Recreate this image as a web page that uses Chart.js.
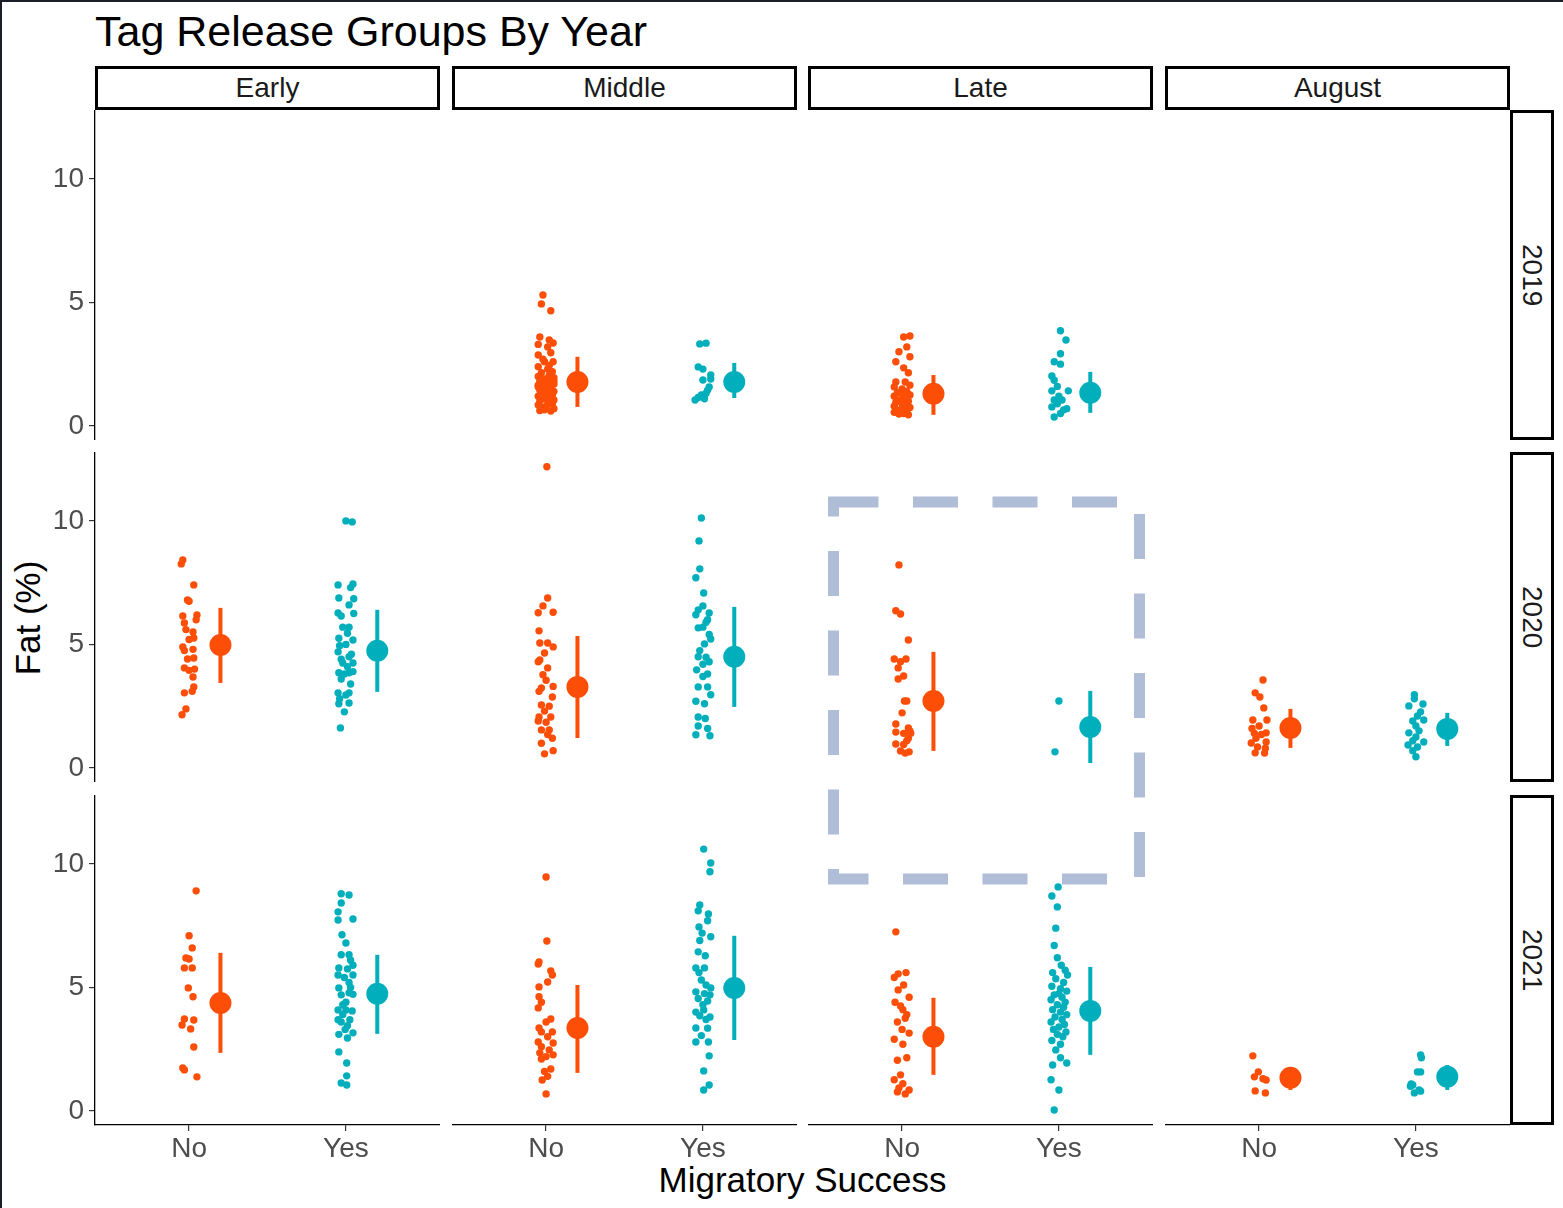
<!DOCTYPE html>
<html><head><meta charset="utf-8">
<script src="https://cdn.jsdelivr.net/npm/chart.js@4.4.1/dist/chart.umd.min.js"></script>
<style>
html,body{margin:0;padding:0;background:#fff;}
body{width:1563px;height:1208px;position:relative;overflow:hidden;font-family:"Liberation Sans",Arial,Helvetica,sans-serif;}
.strip{position:absolute;box-sizing:border-box;border:3px solid #000;background:#fff;color:#1a1a1a;font-size:28px;display:flex;align-items:center;justify-content:center;}
.vstrip{writing-mode:vertical-rl;}
#frameL{position:absolute;left:0;top:0;width:2px;height:1208px;background:#1c1e2a;}
#frameT{position:absolute;left:0;top:0;width:1563px;height:2px;background:#1c1e2a;}
#title{position:absolute;left:95px;top:7px;font-size:43px;line-height:48px;color:#000;white-space:nowrap;}
#xtitle{position:absolute;left:0;width:1605px;top:1160px;font-size:35px;line-height:40px;text-align:center;color:#000;}
#ytitle{position:absolute;left:28px;top:618px;font-size:35px;line-height:40px;color:#000;white-space:nowrap;transform:translate(-50%,-50%) rotate(-90deg);}
svg{position:absolute;left:0;top:0;}
</style></head><body>
<div id="frameL"></div><div id="frameT"></div>
<div id="title">Tag Release Groups By Year</div>
<div id="xtitle">Migratory Success</div>
<div id="ytitle">Fat (%)</div>
<script>
const periods = ['Early','Middle','Late','August'];
const years = ['2019','2020','2021'];
const successCats = ['No','Yes'];
const yTicks = [0,5,10];
const xTicks = [1,2];
const colors = ['#FC4E07','#00AFBB'];

// jittered individual points: [fat %, horizontal jitter in category units]
const pts_2019_Early_No = [];
const pts_2019_Early_Yes = [];
const pts_2019_Middle_No = [[5.30,-0.02],[4.94,-0.03],[4.66,0.03],[3.60,-0.04],[3.48,0.02],[3.36,0.045],[3.30,-0.05],[3.20,0.01],[2.96,0.03],[2.87,-0.05],[2.60,0.045],[2.60,-0.01],[2.40,-0.05],[2.30,0.01],[2.20,0.04],[2.15,-0.03],[2.05,0.02],[2.00,-0.05],[1.95,0.05],[1.90,-0.01],[1.85,0.03],[1.80,-0.04],[1.75,0.01],[1.70,0.05],[1.65,-0.05],[1.60,-0.02],[1.55,0.03],[1.50,0.00],[1.45,-0.04],[1.40,0.05],[1.35,0.02],[1.30,-0.03],[1.25,0.04],[1.20,-0.05],[1.15,0.01],[1.10,-0.02],[1.05,0.05],[1.00,-0.04],[0.95,0.02],[0.90,0.04],[0.85,-0.05],[0.80,0.00],[0.75,-0.03],[0.70,0.05],[0.65,-0.01],[0.60,0.03],[0.62,-0.04],[1.12,0.03],[1.58,-0.05],[2.45,0.02],[1.82,0.05],[1.28,-0.01],[0.88,0.01],[2.70,-0.02],[1.68,0.00]];
const pts_2019_Middle_Yes = [[3.32,-0.02],[3.35,0.02],[2.39,-0.03],[2.30,0.0],[2.06,0.05],[1.86,0.0],[1.90,0.05],[1.58,0.04],[1.45,0.03],[1.32,0.02],[1.25,-0.01],[1.15,-0.03],[1.05,-0.05],[1.10,0.01]];
const pts_2019_Late_No = [[3.60,0.01],[3.64,0.05],[3.20,0.03],[3.00,-0.02],[2.80,0.05],[2.60,-0.04],[2.35,0.01],[2.15,0.04],[1.78,-0.04],[1.78,0.02],[1.65,0.05],[1.58,-0.05],[1.50,0.0],[1.40,0.03],[1.35,-0.03],[1.25,0.05],[1.20,-0.05],[1.10,0.01],[1.05,-0.02],[1.00,0.04],[0.95,-0.04],[0.88,0.02],[0.80,-0.05],[0.75,0.05],[0.70,0.0],[0.65,-0.03],[0.60,0.03],[0.55,-0.05],[0.50,0.01],[0.45,0.04],[0.48,-0.02],[1.15,0.03],[0.92,0.0],[1.30,0.0]];
const pts_2019_Late_Yes = [[3.85,0.01],[3.48,0.045],[2.92,0.01],[2.60,-0.03],[2.50,0.01],[2.02,-0.045],[1.85,-0.03],[1.60,-0.01],[1.42,0.06],[1.42,-0.045],[1.05,-0.03],[1.05,0.02],[0.77,-0.045],[0.65,0.03],[0.36,-0.03],[0.50,0.01],[0.70,0.05],[1.20,0.0],[0.90,-0.01]];
const pts_2019_August_No = [];
const pts_2019_August_Yes = [];
const pts_2020_Early_No = [[8.42,-0.04],[8.26,-0.05],[7.41,0.03],[6.80,-0.01],[6.75,0.0],[6.15,-0.04],[6.19,0.05],[6.00,0.045],[5.87,-0.03],[5.60,-0.02],[5.50,0.025],[5.26,0.03],[5.20,0.0],[4.90,-0.04],[4.80,0.025],[4.75,-0.03],[4.41,-0.01],[4.45,0.03],[4.05,-0.03],[4.00,0.035],[3.95,0.0],[3.68,0.025],[3.28,0.03],[3.10,0.02],[3.04,-0.03],[2.39,-0.02],[2.15,-0.045]];
const pts_2020_Early_Yes = [[10.00,0.0],[9.96,0.04],[7.41,-0.05],[7.45,0.045],[7.30,0.03],[6.88,-0.045],[6.85,0.05],[6.60,0.02],[6.25,0.05],[6.27,-0.05],[6.15,-0.03],[5.70,-0.02],[5.70,0.02],[5.18,0.045],[5.25,-0.045],[5.00,0.0],[4.70,-0.05],[4.60,0.035],[4.50,0.02],[4.40,-0.03],[4.25,-0.02],[4.25,0.045],[3.85,-0.045],[3.90,0.045],[3.80,-0.01],[3.85,0.02],[3.60,-0.03],[3.04,-0.05],[3.04,0.02],[2.80,-0.04],[2.63,0.02],[2.60,-0.045],[2.27,-0.01],[1.62,-0.035],[4.95,-0.04],[5.45,0.01],[4.10,0.01],[3.40,0.03],[2.95,0.0]];
const pts_2020_Middle_No = [[12.19,0.005],[6.88,0.01],[6.56,-0.02],[6.28,-0.05],[6.30,0.045],[5.55,-0.045],[5.06,-0.04],[5.06,0.01],[4.90,0.045],[4.65,-0.01],[4.37,-0.04],[4.30,-0.05],[4.05,0.01],[3.77,-0.02],[3.24,-0.03],[3.30,0.045],[3.10,-0.045],[2.87,0.04],[2.55,-0.03],[2.50,0.02],[2.06,-0.045],[2.06,0.03],[1.90,-0.05],[1.85,0.0],[1.54,-0.03],[1.54,0.02],[1.00,-0.03],[1.20,0.04],[0.57,-0.01],[0.70,0.045],[2.30,-0.01],[3.55,0.0],[1.35,0.01]];
const pts_2020_Middle_Yes = [[10.12,-0.01],[9.19,-0.025],[8.06,-0.02],[7.70,-0.045],[7.08,0.005],[6.56,0.0],[6.40,-0.03],[6.27,0.04],[6.20,-0.045],[6.00,0.03],[5.67,-0.03],[5.70,0.0],[5.40,0.04],[5.22,0.05],[5.02,0.01],[4.50,-0.03],[4.48,0.02],[4.30,0.04],[4.20,0.0],[3.97,-0.04],[3.80,0.03],[3.70,0.0],[3.28,-0.03],[3.28,0.03],[2.96,0.05],[2.70,-0.045],[2.60,0.01],[2.06,-0.03],[2.00,0.015],[1.70,-0.03],[1.60,0.03],[1.34,-0.045],[1.30,0.045],[4.75,-0.02],[5.90,0.02]];
const pts_2020_Late_No = [[8.22,-0.02],[6.36,-0.04],[6.23,-0.01],[5.18,0.04],[4.41,-0.05],[4.41,0.025],[4.30,-0.01],[4.05,-0.025],[3.72,0.01],[3.60,-0.025],[2.71,0.03],[2.71,0.015],[2.23,0.0],[1.78,-0.04],[1.62,0.04],[1.50,0.05],[1.45,-0.04],[1.40,0.01],[1.40,0.055],[0.97,-0.04],[0.95,0.01],[0.69,-0.01],[0.65,0.045],[0.60,0.02],[1.20,0.04],[1.10,0.03]];
const pts_2020_Late_Yes = [[2.71,0.0],[0.65,-0.025]];
const pts_2020_August_No = [[3.56,0.025],[3.04,-0.025],[2.87,0.005],[2.43,0.03],[1.94,-0.04],[1.94,0.05],[1.70,0.0],[1.42,0.045],[1.40,-0.03],[1.35,0.015],[1.01,-0.05],[1.05,0.045],[0.85,-0.01],[0.80,0.04],[0.61,-0.025],[0.60,0.035],[1.20,-0.02],[1.60,-0.045]];
const pts_2020_August_Yes = [[2.96,-0.01],[2.80,-0.01],[2.59,0.045],[2.51,-0.045],[2.27,0.03],[2.10,0.01],[1.94,0.05],[1.90,-0.02],[1.42,-0.045],[1.50,0.02],[1.05,0.05],[1.10,-0.02],[0.93,-0.05],[0.70,-0.02],[0.45,0.0],[1.70,0.0],[1.25,0.0],[0.85,0.01]];
const pts_2021_Early_No = [[8.91,0.045],[7.09,0.0],[6.60,0.02],[6.19,-0.02],[6.15,0.0],[5.79,-0.03],[5.79,0.02],[4.98,-0.005],[4.62,0.025],[3.72,-0.03],[3.68,0.03],[3.48,-0.045],[3.32,0.01],[2.59,0.03],[1.74,-0.04],[1.66,-0.03],[1.38,0.05]];
const pts_2021_Early_Yes = [[8.79,-0.03],[8.74,0.02],[8.42,-0.03],[8.06,-0.05],[7.73,-0.05],[7.77,0.045],[7.13,-0.025],[6.80,0.0],[6.32,-0.03],[6.32,0.02],[6.10,0.03],[5.90,0.045],[5.79,-0.045],[5.75,0.01],[5.50,0.045],[5.50,-0.05],[5.40,-0.01],[4.98,-0.045],[5.00,0.03],[4.78,0.02],[4.70,-0.03],[4.72,0.045],[4.09,-0.05],[4.09,0.0],[4.05,0.04],[3.90,-0.02],[3.69,-0.05],[3.69,0.025],[3.60,-0.03],[3.16,0.045],[3.10,-0.045],[2.95,0.01],[3.30,-0.005],[2.39,-0.045],[1.94,0.005],[1.42,0.005],[1.13,-0.03],[1.05,0.005],[4.40,0.0],[5.20,0.02],[4.30,-0.02],[3.45,0.01]];
const pts_2021_Middle_No = [[9.47,0.0],[6.88,0.005],[6.03,-0.045],[5.95,-0.05],[5.67,0.03],[5.50,0.04],[5.22,0.01],[5.02,-0.045],[4.62,-0.045],[4.40,-0.03],[4.17,-0.05],[3.72,0.03],[3.60,0.0],[3.36,-0.045],[3.20,0.04],[3.20,-0.03],[2.79,-0.05],[2.75,0.045],[2.60,-0.03],[2.47,0.02],[2.35,-0.04],[2.27,0.045],[2.20,0.0],[2.10,-0.03],[1.70,0.03],[1.60,-0.01],[1.25,-0.025],[1.40,0.01],[0.69,0.0],[3.00,0.01]];
const pts_2021_Middle_Yes = [[10.60,0.005],[10.04,0.05],[9.68,0.045],[8.34,-0.02],[8.10,-0.03],[7.97,0.035],[7.70,0.03],[7.45,-0.025],[7.20,-0.005],[7.05,0.05],[6.90,-0.02],[6.44,-0.03],[6.28,0.015],[5.79,-0.045],[5.79,0.01],[5.60,-0.025],[4.98,0.05],[5.30,-0.01],[4.82,-0.045],[4.75,0.01],[4.70,0.045],[4.55,-0.03],[4.45,0.03],[4.09,0.005],[4.00,-0.045],[3.80,0.045],[3.85,-0.02],[3.70,0.02],[3.36,-0.045],[3.35,0.03],[3.05,-0.01],[2.79,-0.045],[2.79,0.035],[2.23,0.04],[1.62,0.005],[1.05,0.04],[0.85,0.005],[4.30,0.0],[5.10,0.02]];
const pts_2021_Late_No = [[7.25,-0.04],[5.55,-0.025],[5.60,0.025],[5.40,-0.05],[5.10,0.01],[4.90,-0.025],[4.60,0.045],[4.40,-0.045],[4.10,0.005],[3.90,0.03],[3.60,-0.03],[3.30,0.0],[3.15,0.045],[2.90,-0.05],[2.70,0.005],[2.15,0.03],[2.05,-0.03],[1.46,-0.01],[1.26,-0.05],[1.10,0.005],[0.85,0.045],[0.77,-0.03],[0.69,0.02],[0.93,-0.02],[3.75,0.02],[4.25,-0.01]];
const pts_2021_Late_Yes = [[9.07,-0.005],[8.70,-0.045],[8.26,-0.01],[7.40,-0.02],[6.70,-0.03],[6.20,-0.01],[5.90,0.015],[5.70,0.04],[5.50,0.055],[5.35,-0.02],[5.20,0.03],[5.05,-0.045],[4.95,0.01],[4.85,0.05],[4.70,-0.03],[4.60,0.02],[4.50,-0.05],[4.40,0.04],[4.30,-0.01],[4.20,0.03],[4.10,-0.04],[4.00,0.01],[3.90,0.05],[3.80,-0.025],[3.70,0.02],[3.60,-0.05],[3.50,0.035],[3.40,0.0],[3.30,-0.035],[3.20,0.045],[3.10,-0.01],[3.00,0.025],[2.85,-0.045],[2.70,0.01],[2.47,-0.02],[2.15,0.01],[1.86,-0.04],[1.94,0.05],[1.26,-0.05],[0.85,0.0],[0.04,-0.03],[5.60,-0.04],[4.75,0.0]];
const pts_2021_August_No = [[2.23,-0.04],[1.58,-0.005],[1.38,-0.03],[1.30,0.025],[1.25,0.045],[0.81,-0.025],[0.73,0.04]];
const pts_2021_August_Yes = [[2.27,0.03],[2.15,0.035],[1.58,0.01],[1.58,0.03],[1.09,-0.03],[1.05,-0.02],[0.85,0.02],[0.73,-0.01],[0.80,0.03],[1.00,-0.035]];

// group means and ranges, rows = years, cols = periods
const meanNo = [[null,1.78,1.30,null],[4.98,3.28,2.71,1.62],[4.37,3.36,3.00,1.34]];
const loNo   = [[null,0.77,0.45,null],[3.44,1.21,0.69,0.81],[2.35,1.54,1.46,0.85]];
const hiNo   = [[null,2.80,2.06,null],[6.48,5.34,4.70,2.39],[6.40,5.10,4.58,1.78]];
const meanYes = [[null,1.78,1.34,null],[4.74,4.50,1.66,1.58],[4.74,4.98,4.05,1.38]];
const loYes   = [[null,1.13,0.53,null],[3.08,2.47,0.20,0.89],[3.12,2.87,2.27,0.85]];
const hiYes   = [[null,2.55,2.19,null],[6.40,6.52,3.12,2.23],[6.32,7.09,5.83,1.86]];

const panelPoints = {
  '2019_Early_No':pts_2019_Early_No,'2019_Early_Yes':pts_2019_Early_Yes,
  '2019_Middle_No':pts_2019_Middle_No,'2019_Middle_Yes':pts_2019_Middle_Yes,
  '2019_Late_No':pts_2019_Late_No,'2019_Late_Yes':pts_2019_Late_Yes,
  '2019_August_No':pts_2019_August_No,'2019_August_Yes':pts_2019_August_Yes,
  '2020_Early_No':pts_2020_Early_No,'2020_Early_Yes':pts_2020_Early_Yes,
  '2020_Middle_No':pts_2020_Middle_No,'2020_Middle_Yes':pts_2020_Middle_Yes,
  '2020_Late_No':pts_2020_Late_No,'2020_Late_Yes':pts_2020_Late_Yes,
  '2020_August_No':pts_2020_August_No,'2020_August_Yes':pts_2020_August_Yes,
  '2021_Early_No':pts_2021_Early_No,'2021_Early_Yes':pts_2021_Early_Yes,
  '2021_Middle_No':pts_2021_Middle_No,'2021_Middle_Yes':pts_2021_Middle_Yes,
  '2021_Late_No':pts_2021_Late_No,'2021_Late_Yes':pts_2021_Late_Yes,
  '2021_August_No':pts_2021_August_No,'2021_August_Yes':pts_2021_August_Yes
};

const FONT = '"Liberation Sans", Arial, Helvetica, sans-serif';
const colLeft = [95,452,808,1165];
const rowTop = [110,452,795];
const panelW = 345, panelH = 330, yAxisW = 95, xAxisH = 50;
const yMin = -0.57, yMax = 12.79;

// strips
periods.forEach((p,c)=>{
  const d=document.createElement('div'); d.className='strip';
  d.style.cssText=`left:${colLeft[c]}px;top:66px;width:${panelW}px;height:44px;`;
  d.textContent=p; document.body.appendChild(d);
});
years.forEach((y,r)=>{
  const d=document.createElement('div'); d.className='strip';
  d.style.cssText=`left:1510px;top:${rowTop[r]}px;width:44px;height:${panelH}px;`;
  const s=document.createElement('span'); s.className='vstrip'; s.textContent=y; d.appendChild(s);
  document.body.appendChild(d);
});

function makePanel(r,c){
  const showY = c===0, showX = r===2;
  const left = colLeft[c] - (showY?yAxisW:0);
  const w = panelW + (showY?yAxisW:0);
  const h = panelH + (showX?xAxisH:0);
  const cv = document.createElement('canvas');
  cv.width=w; cv.height=h;
  cv.style.cssText=`position:absolute;left:${left}px;top:${rowTop[r]}px;width:${w}px;height:${h}px;`;
  document.body.appendChild(cv);
  const datasets=[];
  successCats.forEach((s,si)=>{
    const pts = panelPoints[`${years[r]}_${periods[c]}_${s}`];
    const col = colors[si];
    datasets.push({data: pts.map(p=>({x:si+1+p[1], y:p[0]})), backgroundColor:col, borderWidth:0, pointRadius:3.7, order:3});
    const m = (si?meanYes:meanNo)[r][c];
    if(m!==null){
      const lo=(si?loYes:loNo)[r][c], hi=(si?hiYes:hiNo)[r][c];
      datasets.push({data:[{x:si+1.2,y:lo},{x:si+1.2,y:hi}], showLine:true, borderColor:col, borderWidth:4, pointRadius:0, order:2});
      datasets.push({data:[{x:si+1.2,y:m}], backgroundColor:col, borderWidth:0, pointRadius:11, order:1});
    }
  });
  new Chart(cv,{type:'scatter',data:{datasets},options:{
    responsive:false, animation:false, events:[],
    layout:{padding:0, autoPadding:false},
    plugins:{legend:{display:false},tooltip:{enabled:false}},
    scales:{
      x:{type:'linear',min:0.4,max:2.6,display:showX,position:'bottom',
        afterBuildTicks:s=>{s.ticks=xTicks.map(v=>({value:v}));},
        afterFit:s=>{s.height=showX?xAxisH:0; s.paddingLeft=0; s.paddingRight=0;},
        ticks:{callback:v=>successCats[Math.round(v)-1]||'',font:{size:28,family:FONT},color:'#4d4d4d',padding:1,autoSkip:false,maxRotation:0},
        grid:{display:true,drawOnChartArea:false,drawTicks:true,tickLength:6,color:'#333',lineWidth:1.2},
        border:{display:true,color:'#000',width:1.3}},
      y:{type:'linear',min:yMin,max:yMax,display:showY,position:'left',
        afterBuildTicks:s=>{s.ticks=yTicks.map(v=>({value:v}));},
        afterFit:s=>{s.width=showY?yAxisW:0; s.paddingTop=0; s.paddingBottom=0;},
        ticks:{font:{size:28,family:FONT},color:'#4d4d4d',padding:5},
        grid:{display:true,drawOnChartArea:false,drawTicks:true,tickLength:6,color:'#333',lineWidth:1.2},
        border:{display:true,color:'#000',width:1.3}}
    }}});
}
for(let r=0;r<3;r++) for(let c=0;c<4;c++) makePanel(r,c);

// annotation: dashed highlight box
const svgNS='http://www.w3.org/2000/svg';
const svg=document.createElementNS(svgNS,'svg');
svg.setAttribute('width','1563'); svg.setAttribute('height','1208');
const rect=document.createElementNS(svgNS,'rect');
rect.setAttribute('x','833.5'); rect.setAttribute('y','502');
rect.setAttribute('width','306'); rect.setAttribute('height','377');
rect.setAttribute('fill','none'); rect.setAttribute('stroke','#b0bdd6');
rect.setAttribute('stroke-width','11'); rect.setAttribute('stroke-dasharray','45 34.5');
svg.appendChild(rect); document.body.appendChild(svg);
</script>
</body></html>
